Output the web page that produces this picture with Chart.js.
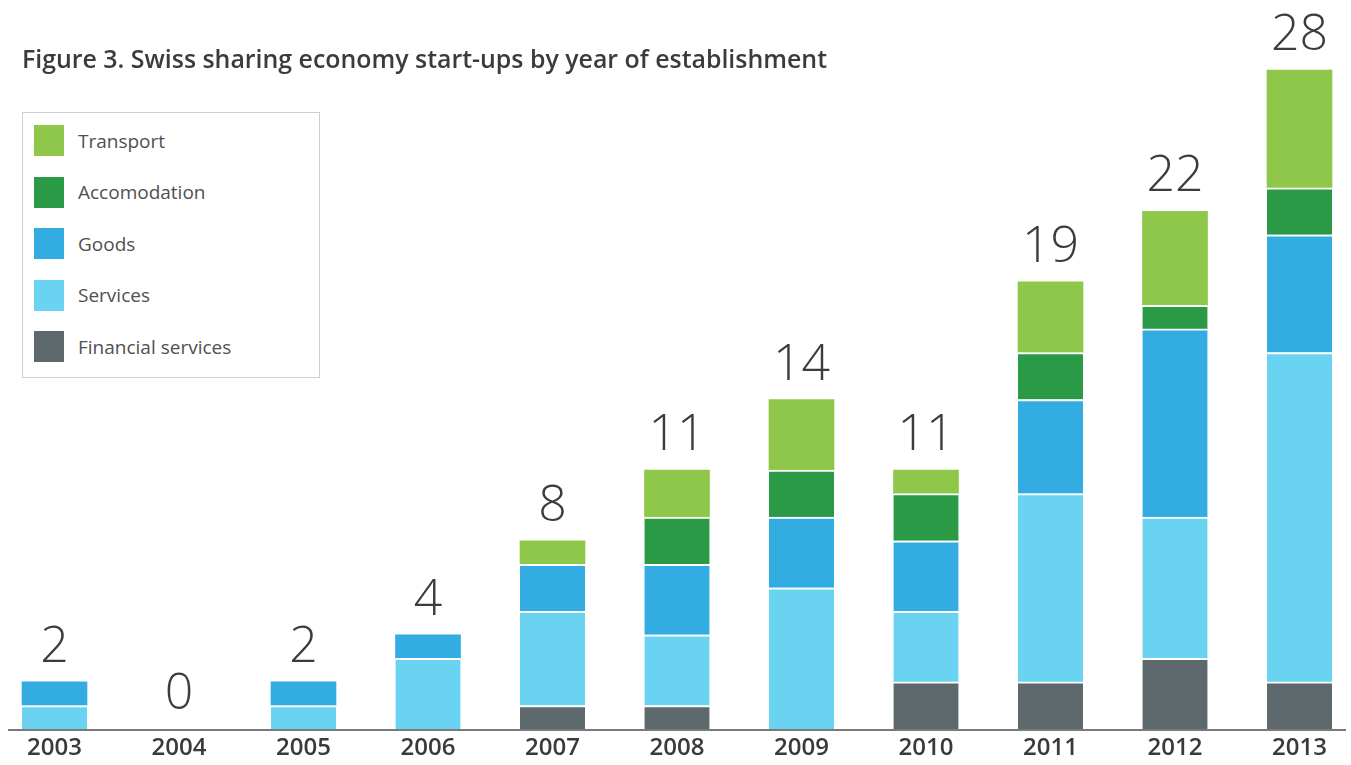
<!DOCTYPE html>
<html>
<head>
<meta charset="utf-8">
<script src="https://cdn.jsdelivr.net/npm/chart.js@4.4.1/dist/chart.umd.min.js"></script>
<style>
  html, body { margin: 0; padding: 0; background: #ffffff; }
  #wrap { position: relative; width: 1351px; height: 765px; overflow: hidden; }
  #chart { position: absolute; left: 0; top: 0; }
  #title { position: absolute; left: 22px; top: 41px; font-family: "Open Sans", sans-serif; font-weight: 600; font-size: 24.9px; color: #3b3b3b; white-space: nowrap; }
  #legend { position: absolute; left: 22px; top: 112px; width: 298px; height: 266px; border: 1px solid #cfcfcf; box-sizing: border-box; background: #fff; }
  .li { position: absolute; left: 11px; height: 31px; display: flex; align-items: center; }
  .sw { width: 30px; height: 31px; margin-right: 14px; }
  .lt { font-family: "Open Sans", sans-serif; font-size: 19px; color: #505050; white-space: nowrap; }
</style>
</head>
<body>
<div id="wrap">
  <canvas id="chart" width="1351" height="765"></canvas>
  <div id="title">Figure 3. Swiss sharing economy start-ups by year of establishment</div>
  <div id="legend"></div>
</div>
<script>
const years = ['2003','2004','2005','2006','2007','2008','2009','2010','2011','2012','2013'];
const financialServices = [0, 0, 0, 0, 1, 1, 0, 2, 2, 3, 2];
const services          = [1, 0, 1, 3, 4, 3, 6, 3, 8, 6, 14];
const goods             = [1, 0, 1, 1, 2, 3, 3, 3, 4, 8, 5];
const accomodation      = [0, 0, 0, 0, 0, 2, 2, 2, 2, 1, 2];
const transport         = [0, 0, 0, 0, 1, 2, 3, 1, 3, 4, 5];

const seriesNames  = ['Financial services', 'Services', 'Goods', 'Accomodation', 'Transport'];
const seriesValues = [financialServices, services, goods, accomodation, transport];
const seriesColors = ['#5d696c', '#6ad3f1', '#33ace2', '#2a9a46', '#8fc74a'];

function topBorder(ctx) {
  const i = ctx.dataIndex, d = ctx.datasetIndex;
  let above = false;
  for (let k = d + 1; k < seriesValues.length; k++) if (seriesValues[k][i] > 0) above = true;
  return { top: above ? 2 : 0, bottom: 0, left: 0, right: 0 };
}

const datasets = seriesNames.map((name, k) => ({
  label: name,
  // zero-height segments are left out so they leave no sliver on the axis
  data: seriesValues[k].map(v => (v === 0 ? null : v)),
  backgroundColor: seriesColors[k],
  borderColor: '#ffffff',
  borderWidth: topBorder,
  borderSkipped: false,
  barThickness: 65,
  clip: false
}));

const totalsPlugin = {
  id: 'totals',
  afterDatasetsDraw(chart) {
    const ctx = chart.ctx;
    const x = chart.scales.x, y = chart.scales.y;
    ctx.save();
    ctx.font = '300 50px "Open Sans"';
    ctx.fillStyle = '#3c3c3c';
    ctx.textAlign = 'center';
    ctx.textBaseline = 'alphabetic';
    years.forEach((yr, i) => {
      const total = seriesValues.reduce((s, arr) => s + arr[i], 0);
      ctx.fillText(String(total), x.getPixelForValue(i), y.getPixelForValue(total) - 20);
    });
    ctx.restore();
  }
};

const baselinePlugin = {
  id: 'baseline',
  beforeDatasetsDraw(chart) {
    const ctx = chart.ctx;
    const y0 = chart.scales.y.getPixelForValue(0);
    ctx.save();
    ctx.strokeStyle = '#7a7a7a';
    ctx.lineWidth = 2;
    ctx.beginPath();
    ctx.moveTo(8, y0 + 1);
    ctx.lineTo(1346, y0 + 1);
    ctx.stroke();
    ctx.restore();
  }
};

const chart = new Chart(document.getElementById('chart'), {
  type: 'bar',
  data: { labels: years, datasets },
  options: {
    responsive: false,
    animation: false,
    layout: { padding: { left: 54.5, right: 51.5, top: 23, bottom: -2 } },
    plugins: {
      legend: { display: false },
      tooltip: { enabled: false },
      title: { display: false }
    },
    scales: {
      x: {
        stacked: true,
        offset: false,
        grid: { display: false, drawTicks: false },
        border: { display: false },
        ticks: { padding: 7, color: '#3a3a3a', font: { family: 'Open Sans', weight: '600', size: 24, lineHeight: 1 } }
      },
      y: {
        stacked: true,
        display: false,
        min: 0,
        max: 30
      }
    }
  },
  plugins: [baselinePlugin, totalsPlugin]
});

// HTML legend, built from the chart's datasets (top series first)
const legendEl = document.getElementById('legend');
const order = chart.data.datasets.map((d, i) => i).reverse();
order.forEach((i, row) => {
  const ds = chart.data.datasets[i];
  const item = document.createElement('div');
  item.className = 'li';
  item.style.top = (12 + row * 51.5) + 'px';
  const sw = document.createElement('div');
  sw.className = 'sw';
  sw.style.background = ds.backgroundColor;
  const tx = document.createElement('span');
  tx.className = 'lt';
  tx.textContent = ds.label;
  item.appendChild(sw);
  item.appendChild(tx);
  legendEl.appendChild(item);
});
</script>
</body>
</html>
